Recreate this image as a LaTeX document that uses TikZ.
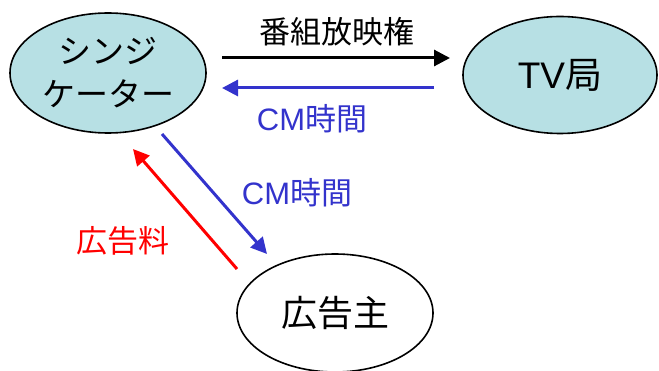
\documentclass[tikz,border=0pt]{standalone}
\usepackage{fontspec}
\setmainfont{Liberation Sans}
\newfontfamily\cjk{Noto Sans CJK JP}
\usetikzlibrary{shapes.geometric,arrows.meta}
\definecolor{fillc}{RGB}{183,224,228}
\definecolor{blueA}{RGB}{51,51,204}
\tikzset{
  ell/.style={ellipse, draw=black, line width=1.6pt, inner sep=0pt},
  conn/.style={line width=3pt, -{Triangle[length=16pt,width=16pt]}},
  lab/.style={font=\fontsize{31}{34}\selectfont\cjk, inner sep=0pt}
}
\begin{document}
\begin{tikzpicture}[x=1pt,y=-1pt]
\useasboundingbox (0,0) rectangle (659,371);
\node[ell, fill=fillc, minimum width=196pt, minimum height=120pt, align=center,
  font=\fontsize{33}{43}\selectfont\cjk] (syn) at (108,73) {シンジ\\ケーター};
\node[ell, fill=fillc, minimum width=194pt, minimum height=117pt,
  font=\fontsize{37}{40}\selectfont] (tv) at (560,75) {TV{\cjk 局}};
\node[ell, fill=white, minimum width=196pt, minimum height=118pt,
  font=\fontsize{36}{40}\selectfont\cjk] (adv) at (335,313) {広告主};
\coordinate (a1) at (222,58);
\coordinate (a2) at (450,58);
\coordinate (b1) at (434,88);
\coordinate (b2) at (222,88);
\coordinate (c1) at (162,134);
\coordinate (c2) at (267,254);
\coordinate (d1) at (237,269);
\coordinate (d2) at (133,149);
\draw[conn, black] (a1) -- (a2);
\draw[conn, blueA] (b1) -- (b2);
\draw[conn, blueA] (c1) -- (c2);
\draw[conn, red] (d1) -- (d2);
\node[lab, text=black] (l1) at (337,32) {番組放映権};
\node[lab, text=blueA, font=\fontsize{31}{34}\selectfont] (l2) at (312,119) {CM{\cjk 時間}};
\node[lab, text=blueA, font=\fontsize{31}{34}\selectfont] (l3) at (297,193) {CM{\cjk 時間}};
\node[lab, text=red] (l4) at (123,241) {広告料};
\end{tikzpicture}
\end{document}
